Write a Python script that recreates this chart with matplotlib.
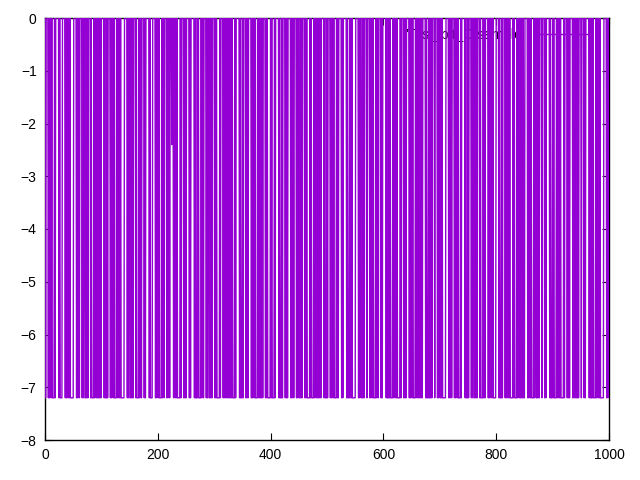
import numpy as np
import matplotlib
matplotlib.use("Agg")
import matplotlib.pyplot as plt

plt.rcParams['font.family'] = ['Liberation Sans', 'DejaVu Sans']

# level codes: 0 -> top level, 1 -> bottom level, 2 -> middle spike
levels = {"0": 0.0, "1": -7.2, "2": -2.4}
series_code = [
    "0100001010 0101111010 0000010111 1000001010 0101011111",
    "1000001010 0100001010 0110101000 0101111010 0101010101",
    "0000010111 0100001010 0101111010 0101011111 1000001010",
    "0110101000 0101111010 0100001010 0000010111 1000001010",
    "0101111010 0100001010 0100020010 0101011111 0100001010",
    "1000001010 0000010111 0101111010 0100001010 0110101000",
    "0101011111 0100001010 0101010101 0101111010 0000010111",
    "0100001010 1000001010 0101111010 0110101000 0101011111",
    "0101111010 0000010111 0100001010 1000001010 0100001010",
    "0110101000 0101011111 0101111010 0101010101 0000010111",
    "0100001010 0101111010 1000001010 0000010111 0101011111",
    "1000001010 0110101000 0100001010 0101111010 0100001010",
    "0000010111 0101111010 0101011111 0100001010 1000001010",
    "0101111010 0101010101 0000010111 0110101000 0100001010",
    "0101011111 1000001010 0100001010 0101111010 0000010111",
    "0100001010 0110101000 0101111010 1000001010 0101011111",
    "0000010111 0100001010 0101011111 0101111010 0101010101",
    "1000001010 0101111010 0110101000 0100001010 0000010111",
    "0101111010 0101011111 0100001010 1000001010 0110101000",
    "0100001010 0000010111 0101111010 0101011111 1000001010",
]
values = [levels[ch] for line in series_code for ch in line.replace(" ", "")]
x = np.arange(len(values))

legend_label = "'Test_bit_C.sample'"
xticks = [0, 200, 400, 600, 800, 1000]
yticks = [-8, -7, -6, -5, -4, -3, -2, -1, 0]

fig = plt.figure(figsize=(6.4, 4.8), dpi=100)
ax = fig.add_axes([45/640, 1-440/480, (609-45)/640, (440-18)/480])

line, = ax.plot(x, values, color='#9400D3', lw=1.0, zorder=3, label=legend_label)
ax.set_xlim(0, 1000)
ax.set_ylim(-8, 0)
ax.set_xticks(xticks)
ax.set_yticks(yticks)
ax.tick_params(direction='in', length=5, width=0.8, top=True, right=True,
               labelsize=10, colors='black', pad=6)
for s in ax.spines.values():
    s.set_linewidth(1.0)
    s.set_color('black')

leg = ax.legend(loc='upper right', frameon=False, markerfirst=False,
                handlelength=4.0, fontsize=10, bbox_to_anchor=(0.985, 1.0),
                borderaxespad=0.3)
leg.set_zorder(1)

fig.savefig('out.png', dpi=100)
